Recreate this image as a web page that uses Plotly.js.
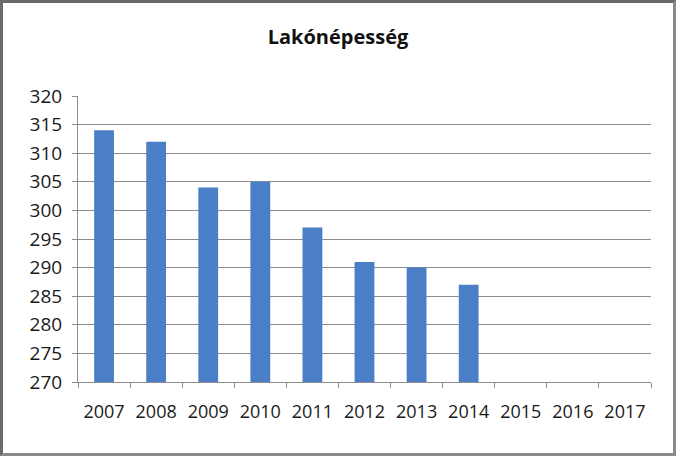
<!DOCTYPE html>
<html>
<head>
<meta charset="utf-8">
<script src="https://cdn.plot.ly/plotly-3.0.1.min.js"></script>
<style>
  html, body { margin: 0; padding: 0; background: #fff; }
  #chart {
    width: 676px; height: 456px; box-sizing: border-box;
    border: 3px solid #8a8a8a; border-top-color: #6a6a6a; border-left-color: #6a6a6a;
  }
</style>
</head>
<body>
<div id="chart"></div>
<script>
// Lakónépesség (fő) évenként, 2015-től még nincs adat
const years = ['2007', '2008', '2009', '2010', '2011', '2012', '2013', '2014', '2015', '2016', '2017'];
const population = [314, 312, 304, 305, 297, 291, 290, 287, null, null, null];
const yTicks = [270, 275, 280, 285, 290, 295, 300, 305, 310, 315, 320];

const font = 'Open Sans, sans-serif';
const gridColor = '#8c8c8c';

const data = [{
  type: 'bar',
  x: years,
  y: population,
  marker: { color: '#4A7EC6', line: { width: 0 } },
  hoverinfo: 'x+y'
}];

const layout = {
  width: 670, height: 450,
  paper_bgcolor: '#ffffff',
  plot_bgcolor: '#ffffff',
  font: { family: font, color: '#1a1a1a', size: 18 },
  margin: { t: 93, r: 22, b: 71, l: 75 },
  bargap: 0.62,
  showlegend: false,
  title: {
    text: '<b>Lakónépesség</b>',
    x: 0.5, xref: 'container',
    y: 0.925, yref: 'container', yanchor: 'middle',
    font: { family: font, size: 20, color: '#111' }
  },
  xaxis: {
    type: 'category',
    tickson: 'boundaries',
    ticks: 'outside', ticklen: 5, tickcolor: gridColor,
    showline: true, linecolor: gridColor, linewidth: 1,
    showgrid: false,
    tickangle: 0,
    tickfont: { size: 18 },
    ticklabelstandoff: 13
  },
  yaxis: {
    range: [270, 320],
    tickvals: yTicks,
    ticks: 'outside', ticklen: 5, tickcolor: gridColor,
    showline: true, linecolor: gridColor, linewidth: 1,
    showgrid: true, gridcolor: gridColor, gridwidth: 1,
    zeroline: false,
    tickfont: { size: 19 },
    ticklabelstandoff: 6
  }
};

Plotly.newPlot('chart', data, layout, { displayModeBar: false, staticPlot: true });
</script>
</body>
</html>
